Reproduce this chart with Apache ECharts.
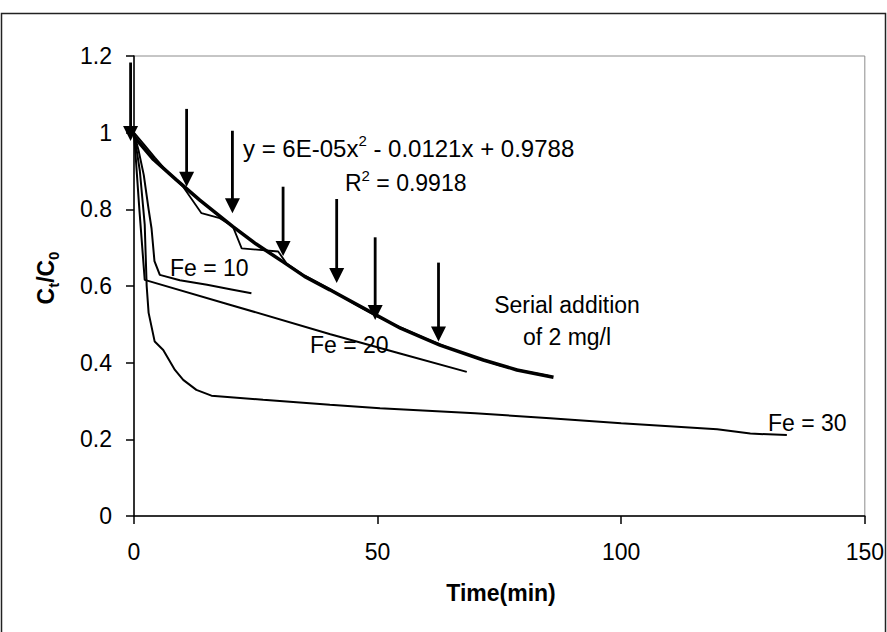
<!DOCTYPE html>
<html>
<head>
<meta charset="utf-8">
<script src="https://cdn.jsdelivr.net/npm/echarts@6/dist/echarts.min.js"></script>
<style>
  html, body { margin: 0; padding: 0; background: #fff; }
  #chart { width: 887px; height: 632px; }
</style>
</head>
<body>
<div id="chart"></div>
<script>
// ---- data ----
const xTicks = [0, 50, 100, 150];
const yTicks = [0, 0.2, 0.4, 0.6, 0.8, 1, 1.2];

// serial addition of 2 mg/l: measured points (thin) and fitted curve (thick)
const serialTime  = [0, 2, 4.3, 6, 8, 10, 13.85, 17.6, 20.3, 22.1, 29.6, 31.3, 35, 40.2, 45, 50, 54.7, 60, 65, 70, 75, 80, 85];
const serialValue = [1.0, 0.97, 0.935, 0.91, 0.885, 0.86, 0.79, 0.777, 0.755, 0.698, 0.69, 0.659, 0.627, 0.592, 0.555, 0.52, 0.492, 0.462, 0.437, 0.414, 0.393, 0.378, 0.366];

const fitTime  = [0, 4, 8.7, 13.5, 20.3, 25, 30.6, 35, 40.2, 47, 54.7, 62.8, 71.7, 78.6, 86.1];
const fitValue = [0.99, 0.93, 0.877, 0.824, 0.755, 0.71, 0.663, 0.625, 0.59, 0.543, 0.49, 0.446, 0.407, 0.381, 0.362];

// single dose Fe = 10
const fe10Time  = [0, 1, 2, 3, 3.6, 4.2, 5.3, 9.4, 15, 20, 24.1];
const fe10Value = [1.0, 0.95, 0.89, 0.8, 0.75, 0.665, 0.629, 0.615, 0.603, 0.591, 0.581];

// single dose Fe = 20
const fe20Time  = [0, 1.1, 2.2, 20, 40.3, 54.6, 68.3];
const fe20Value = [1.0, 0.8, 0.616, 0.55, 0.474, 0.424, 0.376];

// single dose Fe = 30
const fe30Time  = [0, 1.2, 2.2, 2.6, 3.0, 4.25, 6, 8.4, 10.1, 12.8, 15.9, 26.5, 40.2, 50.5, 70, 85.4, 100, 119.7, 126.5, 134];
const fe30Value = [1.0, 0.9, 0.76, 0.6, 0.53, 0.455, 0.433, 0.381, 0.355, 0.329, 0.314, 0.303, 0.29, 0.281, 0.268, 0.255, 0.242, 0.226, 0.215, 0.211];

// addition arrows: time, top of shaft, tip
const arrowTime = [-0.7, 10.8, 20.2, 30.6, 41.6, 49.5, 62.5];
const arrowTop  = [1.183, 1.062, 1.005, 0.859, 0.827, 0.727, 0.661];
const arrowTip  = [0.978, 0.859, 0.79, 0.678, 0.608, 0.511, 0.455];

// ---- build ----
const zip = (a, b) => a.map((v, i) => [v, b[i]]);
const FONT = "'Liberation Sans', Arial, sans-serif";
const F23 = "23px 'Liberation Sans', Arial, sans-serif";

const lineSeries = (data, width) => ({
  type: 'line',
  data: data,
  symbol: 'none',
  showSymbol: false,
  smooth: false,
  lineStyle: { color: '#000', width: width },
  z: 3
});

const chart = echarts.init(document.getElementById('chart'), null, { renderer: 'svg' });

const option = {
  animation: false,
  backgroundColor: '#fff',
  grid: {
    left: 134, right: 22, top: 56, bottom: 116,
    show: true, borderColor: '#8c8c8c', borderWidth: 1, backgroundColor: 'transparent'
  },
  xAxis: {
    type: 'value',
    min: xTicks[0], max: xTicks[xTicks.length - 1], interval: 50,
    axisLine: { show: true, onZero: false, lineStyle: { color: '#000', width: 1.5 } },
    axisTick: { show: true, inside: false, length: 8, lineStyle: { color: '#000', width: 1.5 } },
    axisLabel: { show: true, margin: 24, color: '#000', fontSize: 23, fontFamily: FONT },
    splitLine: { show: false }
  },
  yAxis: {
    type: 'value',
    min: yTicks[0], max: yTicks[yTicks.length - 1], interval: 0.2,
    axisLine: { show: true, lineStyle: { color: '#000', width: 1.5 } },
    axisTick: { show: true, inside: false, length: 8, lineStyle: { color: '#000', width: 1.5 } },
    axisLabel: { show: true, margin: 22, color: '#000', fontSize: 23, fontFamily: FONT,
      formatter: v => String(Math.round(v * 10) / 10) },
    splitLine: { show: false }
  },
  series: [
    lineSeries(zip(fe10Time, fe10Value), 2),
    lineSeries(zip(fe20Time, fe20Value), 2),
    lineSeries(zip(fe30Time, fe30Value), 2),
    lineSeries(zip(serialTime, serialValue), 1.8),
    lineSeries(zip(fitTime, fitValue), 3.5),
    {
      type: 'custom',
      clip: false,
      z: 5,
      data: arrowTime.map((t, i) => [t, arrowTop[i], arrowTip[i]]),
      encode: { x: 0, y: [1, 2] },
      renderItem: function (params, api) {
        const p1 = api.coord([api.value(0), api.value(1)]);
        const p2 = api.coord([api.value(0), api.value(2)]);
        const hh = 15, hw = 7.5;
        return {
          type: 'group',
          children: [
            { type: 'line', shape: { x1: p1[0], y1: p1[1], x2: p2[0], y2: p2[1] - hh + 2 },
              style: { stroke: '#000', lineWidth: 2.8 } },
            { type: 'polygon', shape: { points: [[p2[0] - hw, p2[1] - hh], [p2[0] + hw, p2[1] - hh], [p2[0], p2[1]]] },
              style: { fill: '#000' } }
          ]
        };
      }
    }
  ],
  graphic: [
    { type: 'rect', shape: { x: 1.5, y: 13.5, width: 884, height: 700 },
      style: { fill: 'none', stroke: '#222', lineWidth: 1.5 }, z: 0, silent: true },
    { type: 'text', x: 501, y: 593,
      style: { text: 'Time(min)', font: "bold 23px 'Liberation Sans', Arial, sans-serif", fill: '#000',
        align: 'center', verticalAlign: 'middle' } },
    { type: 'text', x: 46, y: 278, rotation: Math.PI / 2,
      style: { text: '{m|C}{s|t}{m|/C}{s|0}', align: 'center', verticalAlign: 'middle',
        rich: {
          m: { fontSize: 23, fontWeight: 'bold', fontFamily: FONT, fill: '#000', lineHeight: 30 },
          s: { fontSize: 15, fontWeight: 'bold', fontFamily: FONT, fill: '#000', lineHeight: 15, verticalAlign: 'bottom' }
        } } },
    { type: 'text', x: 243, y: 148,
      style: { text: '{n|y = 6E-05x}{p|2}{n| - 0.0121x + 0.9788}', align: 'left', verticalAlign: 'middle',
        rich: {
          n: { fontSize: 24, fontFamily: FONT, fill: '#000', lineHeight: 30 },
          p: { fontSize: 15, fontFamily: FONT, fill: '#000', lineHeight: 15, verticalAlign: 'top' }
        } } },
    { type: 'text', x: 345, y: 183,
      style: { text: '{n|R}{p|2}{n| = 0.9918}', align: 'left', verticalAlign: 'middle',
        rich: {
          n: { fontSize: 23, fontFamily: FONT, fill: '#000', lineHeight: 30 },
          p: { fontSize: 15, fontFamily: FONT, fill: '#000', lineHeight: 15, verticalAlign: 'top' }
        } } },
    { type: 'text', x: 170, y: 268,
      style: { text: 'Fe = 10', font: F23, fill: '#000', align: 'left', verticalAlign: 'middle' } },
    { type: 'text', x: 310, y: 345,
      style: { text: 'Fe = 20', font: F23, fill: '#000', align: 'left', verticalAlign: 'middle' } },
    { type: 'text', x: 768, y: 423,
      style: { text: 'Fe = 30', font: F23, fill: '#000', align: 'left', verticalAlign: 'middle' } },
    { type: 'text', x: 567, y: 305,
      style: { text: 'Serial addition', font: F23, fill: '#000', align: 'center', verticalAlign: 'middle' } },
    { type: 'text', x: 567, y: 337,
      style: { text: 'of 2 mg/l', font: F23, fill: '#000', align: 'center', verticalAlign: 'middle' } }
  ]
};

chart.setOption(option);
</script>
</body>
</html>
